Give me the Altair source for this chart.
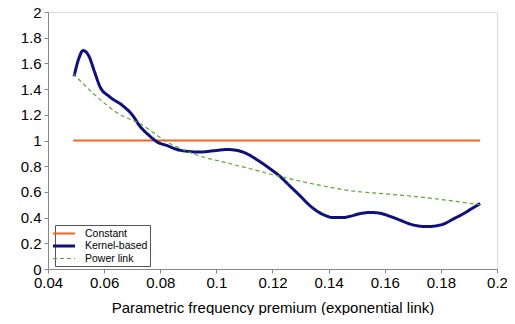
import altair as alt
import pandas as pd

series_names = ["Constant", "Kernel-based", "Power link"]
series_colors = ["#F26522", "#10107A", "#5FA33A"]
series_widths = [2, 3, 1.2]

const_x = [0.049, 0.194]
const_y = [1.0, 1.0]

kernel_x = [0.0493, 0.0510, 0.0525, 0.0545, 0.0565, 0.0585, 0.062, 0.0667, 0.0700, 0.0728, 0.0760,
            0.0788, 0.0825, 0.0860, 0.0900, 0.0940, 0.0990, 0.1038, 0.1080, 0.1115, 0.1145,
            0.1185, 0.1227, 0.1260, 0.1298, 0.1330, 0.1359, 0.1390, 0.1416, 0.1450, 0.1476,
            0.1510, 0.1548, 0.1580, 0.1619, 0.1655, 0.1690, 0.1720, 0.1750, 0.1780, 0.1810,
            0.1845, 0.1880, 0.1910, 0.1940]
kernel_y = [1.50, 1.64, 1.70, 1.66, 1.54, 1.42, 1.34, 1.27, 1.20, 1.11, 1.04,
            0.99, 0.96, 0.93, 0.915, 0.91, 0.92, 0.93, 0.92, 0.89, 0.85,
            0.79, 0.72, 0.65, 0.57, 0.50, 0.45, 0.415, 0.40, 0.40, 0.41,
            0.43, 0.44, 0.435, 0.41, 0.38, 0.35, 0.335, 0.33, 0.335, 0.35,
            0.39, 0.43, 0.47, 0.51]

power_x = [0.049, 0.0585, 0.0650, 0.0728, 0.0824, 0.0940, 0.1030, 0.1120, 0.1227, 0.1350,
           0.1476, 0.1600, 0.1726, 0.1840, 0.1940]
power_y = [1.52, 1.32, 1.21, 1.13, 0.99, 0.88, 0.83, 0.78, 0.72, 0.66,
           0.61, 0.585, 0.56, 0.53, 0.50]

x_ticks = [0.04, 0.06, 0.08, 0.1, 0.12, 0.14, 0.16, 0.18, 0.2]
y_ticks = [0, 0.2, 0.4, 0.6, 0.8, 1, 1.2, 1.4, 1.6, 1.8, 2]

rows = []
for i, (xs, ys) in enumerate([(const_x, const_y), (kernel_x, kernel_y), (power_x, power_y)]):
    for j, (xv, yv) in enumerate(zip(xs, ys)):
        rows.append({"series": series_names[i], "x": xv, "y": yv, "order": j})
df = pd.DataFrame(rows)

font = "Liberation Sans"

chart = alt.Chart(df).mark_line(interpolate="monotone").encode(
    x=alt.X("x:Q",
            scale=alt.Scale(domain=[0.04, 0.2], nice=False, zero=False),
            axis=alt.Axis(values=x_ticks, format="~g", title="Parametric frequency premium (exponential link)",
                          grid=False, labelFontSize=15, titleFontSize=15, titleFontWeight="normal",
                          labelColor="#000", titleColor="#000", domainColor="#888", tickColor="#888",
                          tickSize=4, labelPadding=2, titlePadding=10, labelFont=font, titleFont=font,
                          labelFlush=False)),
    y=alt.Y("y:Q",
            scale=alt.Scale(domain=[0, 2], nice=False),
            axis=alt.Axis(values=y_ticks, format="~g", title=None, grid=False, labelFontSize=15,
                          labelColor="#000", domainColor="#888", tickColor="#888", tickSize=4,
                          labelPadding=3, labelFont=font, labelFlush=False)),
    color=alt.Color("series:N", scale=alt.Scale(domain=series_names, range=series_colors),
                    legend=alt.Legend(title=None, orient="none", legendX=7, legendY=213,
                                      strokeColor="#555", fillColor="white", padding=2,
                                      labelFontSize=10.5, labelFont=font, labelColor="#000",
                                      symbolType="M-2,0L2,0", symbolSize=121, rowPadding=0,
                                      labelOffset=14, labelLimit=200)),
    strokeDash=alt.StrokeDash("series:N", scale=alt.Scale(domain=series_names, range=[[1, 0], [1, 0], [4, 3]]),
                              legend=alt.Legend(title=None)),
    strokeWidth=alt.StrokeWidth("series:N", scale=alt.Scale(type="ordinal", domain=series_names, range=series_widths),
                                legend=alt.Legend(title=None)),
    order="order:Q",
    detail="series:N",
).properties(
    width=449, height=257,
    padding={"left": 40, "top": 4, "right": 10, "bottom": 46},
    autosize=alt.AutoSizeParams(type="none"),
).configure_view(stroke="#bbb", strokeWidth=1.5).configure(background="white")

chart.save("out.html", embed_options={"renderer": "svg", "actions": False})
